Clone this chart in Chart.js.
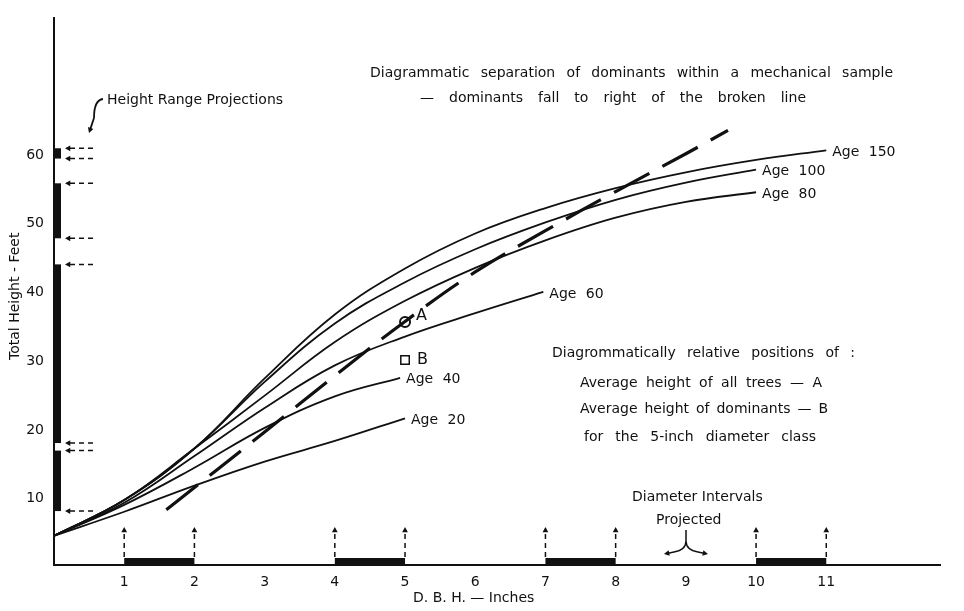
<!DOCTYPE html>
<html>
<head>
<meta charset="utf-8">
<script src="https://cdn.jsdelivr.net/npm/chart.js@4.4.0/dist/chart.umd.min.js"></script>
<style>
  html, body { margin: 0; padding: 0; background: #fff; }
</style>
</head>
<body>
<canvas id="chart" width="964" height="611"></canvas>
<script>
// site curves, total height (ft) over d.b.h. (in)
const dbh = [0, 1, 2, 3, 4, 5, 6, 7, 8, 9, 10, 11]
const age150 = [4.6, 9.8, 17.3, 27.5, 36.8, 43.5, 48.6, 52.3, 55.2, 57.5, 59.3, 60.7]
const age100 = [4.6, 9.8, 17.3, 27.0, 35.5, 41.5, 46.3, 50.2, 53.5, 56.0, 57.9]
const age80 = [4.6, 9.8, 17.3, 25.0, 32.8, 38.8, 43.6, 47.6, 50.9, 53.2, 54.6]
const dbh60 = [0, 1, 2, 3, 4, 5, 6, 6.97]
const age60 = [4.6, 9.4, 16.2, 23.2, 29.4, 33.6, 37.0, 40.1]
const dbh40 = [0, 1, 2, 3, 4, 4.93]
const age40 = [4.6, 9.1, 14.5, 20.3, 24.9, 27.6]
const dbh20 = [0, 1, 2, 3, 4, 5]
const age20 = [4.6, 8.1, 11.9, 15.4, 18.4, 21.7]

// broken line separating dominants
const brokenX = [1.6, 3, 4, 5, 6, 7, 8, 9, 9.6]
const brokenY = [8.4, 19.7, 27.9, 35.8, 43.0, 49.0, 54.7, 60.2, 63.6]

// relative positions for the 5-inch class
const pointA = { x: 5, y: 35.7 }
const pointB = { x: 5, y: 30.2 }

const heightRanges = [[8.2, 17.0], [18.1, 44.1], [47.9, 55.9], [59.5, 61.0]]
const diameterIntervals = [[1, 2], [4, 5], [7, 8], [10, 11]]

const xTicks = [1, 2, 3, 4, 5, 6, 7, 8, 9, 10, 11]
const yTicks = [10, 20, 30, 40, 50, 60]

const INK = '#111'
const FONT = '"DejaVu Sans", sans-serif'

const pts = (xs, ys) => xs.map((x, i) => ({ x: x, y: ys[i] }))

function curve(label, xs, ys) {
    return {
        label: label,
        data: pts(xs, ys),
        borderColor: INK,
        borderWidth: 1.8,
        pointRadius: 0,
        tension: 0.4,
        fill: false
    }
}

const ageSets = [
    curve('Age 150', dbh, age150),
    curve('Age 100', dbh.slice(0, age100.length), age100),
    curve('Age 80', dbh.slice(0, age80.length), age80),
    curve('Age 60', dbh60, age60),
    curve('Age 40', dbh40, age40),
    curve('Age 20', dbh20, age20)
]

function fitText(ctx, text, x1, x2, y) {
    ctx.wordSpacing = '0px'
    const natural = ctx.measureText(text).width
    const gaps = text.split(' ').length - 1
    let extra = gaps ? (x2 - x1 - natural) / gaps : 0
    if (extra < 0) extra = 0
    ctx.wordSpacing = extra + 'px'
    ctx.textAlign = 'left'
    ctx.fillText(text, x1, y)
    ctx.wordSpacing = '0px'
}

function arrow(ctx, x1, y1, x2, y2, dashed) {
    const ang = Math.atan2(y2 - y1, x2 - x1)
    ctx.save()
    ctx.setLineDash(dashed ? [5, 4] : [])
    ctx.beginPath()
    ctx.moveTo(x1, y1)
    ctx.lineTo(x2 - 3 * Math.cos(ang), y2 - 3 * Math.sin(ang))
    ctx.stroke()
    ctx.setLineDash([])
    ctx.beginPath()
    ctx.moveTo(x2, y2)
    ctx.lineTo(x2 - 6 * Math.cos(ang - 0.5), y2 - 6 * Math.sin(ang - 0.5))
    ctx.lineTo(x2 - 6 * Math.cos(ang + 0.5), y2 - 6 * Math.sin(ang + 0.5))
    ctx.closePath()
    ctx.fill()
    ctx.restore()
}

const overlay = {
    id: 'overlay',
    afterDraw(chart) {
        const ctx = chart.ctx
        const xs = chart.scales.x
        const ys = chart.scales.y
        const area = chart.chartArea
        ctx.save()
        ctx.fillStyle = INK
        ctx.strokeStyle = INK
        ctx.lineWidth = 1.5

        // height range projections on the y axis
        heightRanges.forEach(r => {
            const top = ys.getPixelForValue(r[1])
            const bot = ys.getPixelForValue(r[0])
            ctx.fillRect(area.left, top, 7, bot - top)
            arrow(ctx, area.left + 39, top, area.left + 11, top, true)
            arrow(ctx, area.left + 39, bot, area.left + 11, bot, true)
        })

        // diameter intervals on the x axis
        diameterIntervals.forEach(r => {
            const a = xs.getPixelForValue(r[0])
            const b = xs.getPixelForValue(r[1])
            ctx.fillRect(a, area.bottom - 7, b - a, 7)
            arrow(ctx, a, area.bottom - 8, a, area.bottom - 38, true)
            arrow(ctx, b, area.bottom - 8, b, area.bottom - 38, true)
        })

        // curve labels
        ctx.font = '14px ' + FONT
        ctx.textBaseline = 'middle'
        chart.data.datasets.forEach(ds => {
            if (!ds.label || !ds.label.startsWith('Age')) return
            const last = ds.data[ds.data.length - 1]
            const px = xs.getPixelForValue(last.x)
            const py = ys.getPixelForValue(last.y)
            ctx.wordSpacing = '5px'
            ctx.textAlign = 'left'
            ctx.fillText(ds.label, px + 6, py + 2)
            ctx.wordSpacing = '0px'
        })

        // A / B marker letters
        ctx.font = '16px ' + FONT
        ctx.fillText('A', xs.getPixelForValue(pointA.x) + 11, ys.getPixelForValue(pointA.y) - 6)
        ctx.fillText('B', xs.getPixelForValue(pointB.x) + 12, ys.getPixelForValue(pointB.y))

        // notes
        ctx.font = '14px ' + FONT
        fitText(ctx, 'Diagrammatic separation of dominants within a mechanical sample', 370, 893, 73)
        fitText(ctx, '\u2014 dominants fall to right of the broken line', 420, 806, 98)
        fitText(ctx, 'Diagrommatically relative positions of :', 552, 855, 353)
        fitText(ctx, 'Average height of all trees \u2014 A', 580, 822, 383)
        fitText(ctx, 'Average height of dominants \u2014 B', 580, 828, 409)
        fitText(ctx, 'for the 5-inch diameter class', 584, 816, 437)
        fitText(ctx, 'Height Range Projections', 107, 283, 100)
        fitText(ctx, 'Diameter Intervals', 632, 740, 497)
        fitText(ctx, 'Projected', 656, 716, 520)

        // pointer to the projections
        ctx.lineWidth = 1.8
        ctx.beginPath()
        ctx.moveTo(103, 99)
        ctx.quadraticCurveTo(94, 100, 94, 118)
        ctx.stroke()
        arrow(ctx, 94, 118, 89, 133, false)

        // split arrow under "Projected"
        ctx.lineWidth = 1.5
        ctx.beginPath()
        ctx.moveTo(686, 530)
        ctx.lineTo(686, 541)
        ctx.quadraticCurveTo(686, 550, 674, 552)
        ctx.moveTo(686, 541)
        ctx.quadraticCurveTo(686, 550, 698, 552)
        ctx.stroke()
        arrow(ctx, 674, 552, 664, 554, false)
        arrow(ctx, 698, 552, 708, 554, false)

        // axis titles
        ctx.font = '14px ' + FONT
        fitText(ctx, 'D. B. H. \u2014 Inches', 413, 527, 598)
        ctx.translate(15, 360)
        ctx.rotate(-Math.PI / 2)
        fitText(ctx, 'Total Height - Feet', 0, 124, 0)
        ctx.restore()
    }
}

const ctx = document.getElementById('chart').getContext('2d')
const chart = new Chart(ctx, {
    type: 'line',
    data: {
        datasets: ageSets.concat([
            {
                label: 'broken line',
                data: pts(brokenX, brokenY),
                borderColor: INK,
                borderWidth: 3.2,
                borderDash: [40, 15],
                borderCapStyle: 'butt',
                pointRadius: 0,
                tension: 0.4,
                fill: false
            },
            {
                label: 'A',
                data: [pointA],
                showLine: false,
                pointStyle: 'circle',
                pointRadius: 5,
                pointBorderWidth: 2,
                pointBorderColor: INK,
                pointBackgroundColor: '#fff'
            },
            {
                label: 'B',
                data: [pointB],
                showLine: false,
                pointStyle: 'rect',
                pointRadius: 6,
                pointBorderWidth: 1.5,
                pointBorderColor: INK,
                pointBackgroundColor: '#fff'
            },
            {
                label: 'centres',
                data: [pointA, pointB],
                showLine: false,
                pointStyle: 'circle',
                pointRadius: 1.3,
                pointBorderWidth: 0,
                pointBackgroundColor: INK
            }
        ])
    },
    options: {
        responsive: false,
        animation: false,
        devicePixelRatio: 1,
        layout: { padding: { top: 5, right: 24, left: 0, bottom: 0 } },
        plugins: { legend: { display: false }, tooltip: { enabled: false } },
        scales: {
            x: {
                type: 'linear',
                min: 0,
                max: 12.62,
                grid: { display: false, drawTicks: false },
                border: { display: true, color: INK, width: 2 },
                ticks: { color: INK, padding: 9, font: { family: FONT, size: 14 } },
                afterBuildTicks: s => { s.ticks = xTicks.map(v => ({ value: v })) },
                afterFit: s => { s.height = 46 }
            },
            y: {
                type: 'linear',
                min: 0.35,
                max: 79.9,
                grid: { display: false, drawTicks: false },
                border: { display: true, color: INK, width: 2 },
                ticks: { color: INK, padding: 10, font: { family: FONT, size: 14 } },
                afterBuildTicks: s => { s.ticks = yTicks.map(v => ({ value: v })) },
                afterFit: s => { s.width = 54 }
            }
        }
    },
    plugins: [overlay]
})
</script>
</body>
</html>
